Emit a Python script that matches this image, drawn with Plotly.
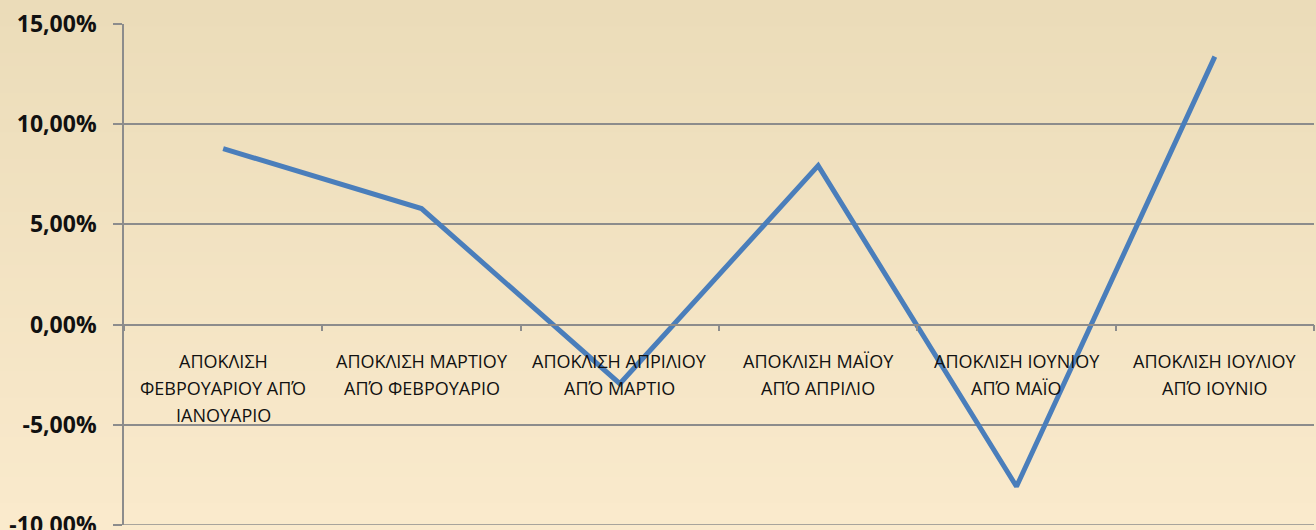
import plotly.graph_objects as go

categories = [
    "ΑΠΟΚΛΙΣΗ ΦΕΒΡΟΥΑΡΙΟΥ",
    "ΑΠΟΚΛΙΣΗ ΜΑΡΤΙΟΥ",
    "ΑΠΟΚΛΙΣΗ ΑΠΡΙΛΙΟΥ",
    "ΑΠΟΚΛΙΣΗ ΜΑΪΟΥ",
    "ΑΠΟΚΛΙΣΗ ΙΟΥΝΙΟΥ",
    "ΑΠΟΚΛΙΣΗ ΙΟΥΛΙΟΥ",
]
category_label_lines = [
    ["ΑΠΟΚΛΙΣΗ", "ΦΕΒΡΟΥΑΡΙΟΥ ΑΠΌ", "ΙΑΝΟΥΑΡΙΟ"],
    ["ΑΠΟΚΛΙΣΗ ΜΑΡΤΙΟΥ", "ΑΠΌ ΦΕΒΡΟΥΑΡΙΟ"],
    ["ΑΠΟΚΛΙΣΗ ΑΠΡΙΛΙΟΥ", "ΑΠΌ ΜΑΡΤΙΟ"],
    ["ΑΠΟΚΛΙΣΗ ΜΑΪΟΥ", "ΑΠΌ ΑΠΡΙΛΙΟ"],
    ["ΑΠΟΚΛΙΣΗ ΙΟΥΝΙΟΥ", "ΑΠΌ ΜΑΪΟ"],
    ["ΑΠΟΚΛΙΣΗ ΙΟΥΛΙΟΥ", "ΑΠΌ ΙΟΥΝΙΟ"],
]
values = [8.78, 5.79, -2.95, 7.93, -8.08, 13.37]
y_ticks = [-10, -5, 0, 5, 10, 15]
y_tick_labels = ["-10,00%", "-5,00%", "0,00%", "5,00%", "10,00%", "15,00%"]

W, H = 1316, 530
ml, mr, mt, mb = 124, 2, 24, 5
pw, ph = W - ml - mr, H - mt - mb
grid_color = "#8C8C8C"

fig = go.Figure()
fig.add_trace(go.Scatter(
    x=categories, y=values, mode="lines",
    line=dict(color="#4A7EBB", width=5),
    hoverinfo="skip", showlegend=False,
))

# category labels (line by line, to match the wide line spacing)
label_font = dict(family="Open Sans", size=18, color="#111")
for cat, lines in zip(categories, category_label_lines):
    for j, txt in enumerate(lines):
        fig.add_annotation(x=cat, y=0, xref="x", yref="y", text=txt,
                           showarrow=False, xanchor="center", yanchor="middle",
                           yshift=-(36.5 + 26.7 * j), font=label_font)

# vertical gradient background
top = (235, 220, 185)
bot = (250, 234, 204)
n = 40
shapes = []
y0p = -mb / ph
y1p = 1 + mt / ph
for i in range(n):
    t = i / (n - 1)
    c = tuple(round(bot[k] + (top[k] - bot[k]) * t) for k in range(3))
    ya = y0p + (y1p - y0p) * i / n
    yb = y0p + (y1p - y0p) * (i + 1) / n + 0.002
    shapes.append(dict(type="rect", xref="paper", yref="paper",
                       x0=-ml / pw - 0.01, x1=1 + mr / pw + 0.01, y0=ya, y1=yb,
                       fillcolor="rgb(%d,%d,%d)" % c, line=dict(width=0),
                       layer="below"))
# gridline at the bottom end of the range (plotly omits it at the edge)
shapes.append(dict(type="line", xref="paper", yref="y", x0=0, x1=1,
                   y0=y_ticks[0], y1=y_ticks[0],
                   line=dict(color=grid_color, width=1.5), layer="below"))

fig.update_layout(
    width=W, height=H,
    margin=dict(l=ml, r=mr, t=mt, b=mb, autoexpand=False),
    paper_bgcolor="rgb(242,227,195)",
    plot_bgcolor="rgba(0,0,0,0)",
    shapes=shapes,
    showlegend=False,
    xaxis=dict(
        type="category",
        tickson="boundaries",
        ticks="outside", ticklen=6, tickwidth=1.5, tickcolor=grid_color,
        showgrid=False,
        showline=True, linecolor=grid_color, linewidth=1.5,
        anchor="free", position=0.4,
        showticklabels=False,
        automargin=False,
        range=[-0.5, 5.5],
        zeroline=False,
    ),
    yaxis=dict(
        range=[-10, 15],
        tickvals=y_ticks, ticktext=y_tick_labels,
        ticks="outside", ticklen=9, tickwidth=1.5, tickcolor=grid_color,
        showgrid=True, gridcolor=grid_color, gridwidth=1.5,
        showline=True, linecolor=grid_color, linewidth=1.5,
        zeroline=False,
        automargin=False,
        ticklabeloverflow="allow",
        tickfont=dict(family="Open Sans", size=23, color="#111", weight="bold"),
        ticklabelstandoff=12,
    ),
)
fig.write_html("out.html",
               config={"displayModeBar": False},
               post_script="document.body.style.margin='0';document.body.style.overflow='hidden';")
